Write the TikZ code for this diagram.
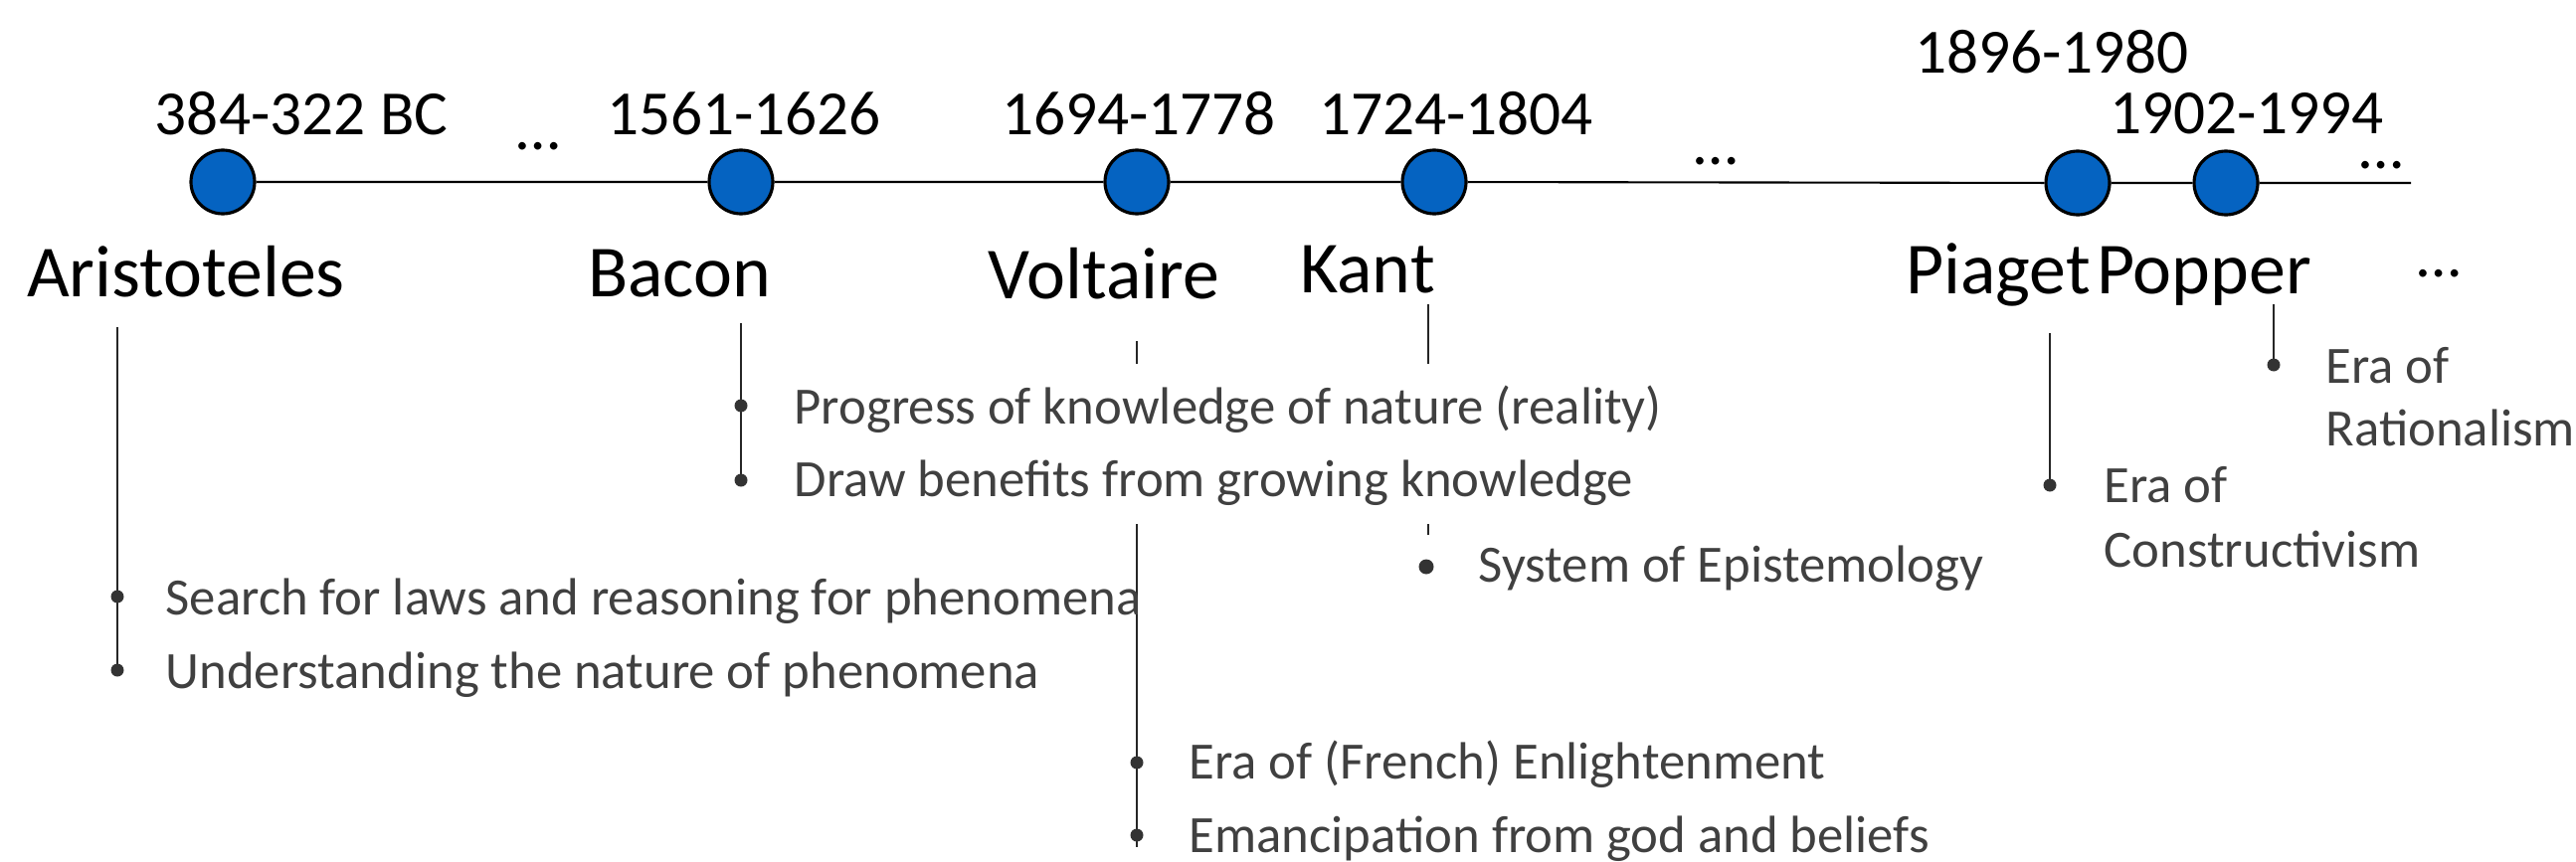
\documentclass[tikz,border=0pt]{standalone}
\usepackage{fontspec}
\setmainfont{Carlito}
\usepackage{tikz}
\definecolor{dotBlue}{RGB}{5, 99, 193}
\definecolor{noteGray}{RGB}{64, 64, 64}

\begin{document}
\begin{tikzpicture}[
    year/.style={font=\fontsize{18}{22}\selectfont, anchor=base, inner sep=0pt},
    person/.style={font=\fontsize{21}{25}\selectfont, anchor=base, inner sep=0pt},
    event/.style={circle, draw=black, line width=0.9pt, fill=dotBlue, minimum size=0.64cm, inner sep=0pt},
    note/.style={font=\fontsize{15}{18}\selectfont, text=noteGray, anchor=base west, inner sep=0pt, text height=0.6cm, text depth=0.28cm},
    stem/.style={line width=0.7pt, black!85},
    knob/.style={fill=black!80, radius=0.065}
  ]
        \useasboundingbox (0,0) rectangle (25.9,-8.66);

        % Timeline
        \node[event] (ari) at (2.24,-1.83) {};
        \node[event] (bac) at (7.45,-1.83) {};
        \node[event] (vol) at (11.43,-1.83) {};
        \node[event] (kan) at (14.42,-1.83) {};
        \node[event] (pia) at (20.89,-1.84) {};
        \node[event] (pop) at (22.38,-1.84) {};
        \coordinate (tend) at (24.24,-1.84);
        \draw[line width=0.6pt] (ari) -- (bac) -- (vol) -- (kan) -- (pia) -- (pop) -- (tend);

        % Years
        \node[year] (ariyear) at (3.03,-1.35) {384-322 BC};
        \node[year] (bacyear) at (7.48,-1.35) {1561-1626};
        \node[year] (volyear) at (11.45,-1.35) {1694-1778};
        \node[year] (kanyear) at (14.64,-1.35) {1724-1804};
        \node[year] (piayear) at (20.63,-0.73) {1896-1980};
        \node[year] (popyear) at (22.59,-1.34) {1902-1994};

        % Gaps
        \node[year] (gapa) at (5.41,-1.50) {…};
        \node[year] (gapb) at (17.25,-1.65) {…};
        \node[year] (gapc) at (23.94,-1.69) {…};
        \node[year] (gapd) at (24.52,-2.78) {…};

        % Names
        \node[person] (ariname) at (1.87,-2.98) {Aristoteles};
        \node[person] (bacname) at (6.83,-2.98) {Bacon};
        \node[person] (volname) at (11.10,-3.00) {Voltaire};
        \node[person] (kanname) at (13.75,-2.94) {Kant};
        \node[person] (pianame) at (20.09,-2.95) {Piaget};
        \node[person] (popname) at (22.16,-2.95) {Popper};

        % Stems that pass behind the Bacon notes
        \coordinate (voltop) at (11.43,-3.43);
        \coordinate (volbot) at (11.43,-8.52);
        \draw[stem] (voltop) -- (volbot);
        \coordinate (kantop) at (14.36,-3.06);
        \coordinate (kanbot) at (14.36,-5.38);
        \draw[stem] (kantop) -- (kanbot);

        % Aristoteles
        \node[note] (arinotea) at (1.66,-6.18) {Search for laws and reasoning for phenomena};
        \node[note] (arinoteb) at (1.66,-6.92) {Understanding the nature of phenomena};
        \coordinate (aritop) at (1.18,-3.29);
        \coordinate (aribot) at (1.18,-6.79);
        \draw[stem] (aritop) -- (aribot);
        \fill[knob] (1.18,-6.00) circle;
        \fill[knob] (1.18,-6.74) circle;

        % Bacon
        \node[note, fill=white] (bacnotea) at (7.98,-4.26) {Progress of knowledge of nature (reality)};
        \node[note, fill=white] (bacnoteb) at (7.98,-4.99) {Draw benefits from growing knowledge};
        \coordinate (bactop) at (7.45,-3.25);
        \coordinate (bacbot) at (7.45,-4.88);
        \draw[stem] (bactop) -- (bacbot);
        \fill[knob] (7.45,-4.08) circle;
        \fill[knob] (7.45,-4.83) circle;

        % Voltaire
        \node[note] (volnotea) at (11.95,-7.83) {Era of (French) Enlightenment};
        \node[note] (volnoteb) at (11.95,-8.57) {Emancipation from god and beliefs};
        \fill[knob] (11.43,-7.67) circle;
        \fill[knob] (11.43,-8.40) circle;

        % Kant
        \node[note] (kannote) at (14.86,-5.85) {System of Epistemology};
        \fill[knob, radius=0.075] (14.34,-5.70) circle;

        % Piaget
        \node[note] (pianotea) at (21.15,-5.05) {Era of};
        \node[note] (pianoteb) at (21.15,-5.70) {Constructivism};
        \coordinate (piatop) at (20.61,-3.35);
        \coordinate (piabot) at (20.61,-4.88);
        \draw[stem] (piatop) -- (piabot);
        \fill[knob] (piabot) circle;

        % Popper
        \node[note] (popnotea) at (23.38,-3.85) {Era of};
        \node[note] (popnoteb) at (23.38,-4.48) {Rationalism};
        \coordinate (poptop) at (22.86,-3.06);
        \coordinate (popbot) at (22.86,-3.67);
        \draw[stem] (poptop) -- (popbot);
        \fill[knob] (popbot) circle;
      \end{tikzpicture}
\end{document}
